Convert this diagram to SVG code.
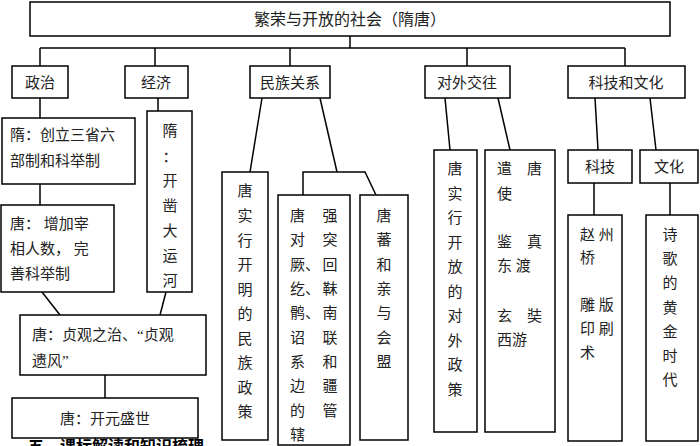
<svg xmlns="http://www.w3.org/2000/svg" width="700" height="446" viewBox="0 0 700 446">
<style>
rect{fill:#fff;stroke:#000;stroke-width:1.5}
line,polyline{stroke:#000;stroke-width:1.5;fill:none}
text{font-family:"Liberation Serif","Noto Sans CJK SC",serif;font-size:15px;fill:#222}
.c{text-anchor:middle}
</style>
<rect x="0" y="0" width="700" height="446" style="stroke:none"/>
<g id="connectors">
<line x1="350" y1="36" x2="350" y2="48"/>
<line x1="40" y1="48" x2="625" y2="48"/>
<line x1="40" y1="48" x2="40" y2="66"/>
<line x1="155" y1="48" x2="155" y2="66"/>
<line x1="290" y1="48" x2="290" y2="66"/>
<line x1="467" y1="48" x2="467" y2="66"/>
<line x1="625" y1="48" x2="625" y2="66"/>
<line x1="40" y1="98" x2="40" y2="118"/>
<line x1="40" y1="184" x2="40" y2="205"/>
<line x1="158" y1="98" x2="158" y2="111"/>
<line x1="42" y1="292" x2="60" y2="315"/>
<line x1="166" y1="292" x2="160" y2="315"/>
<line x1="105" y1="375" x2="105" y2="398"/>
<line x1="262" y1="98" x2="250" y2="172"/>
<line x1="320" y1="98" x2="337" y2="172"/>
<polyline points="303,195 303,172 365,172 376,195"/>
<line x1="445" y1="98" x2="450" y2="150"/>
<line x1="498" y1="98" x2="510" y2="150"/>
<line x1="595" y1="98" x2="598" y2="150"/>
<line x1="650" y1="98" x2="656" y2="150"/>
<line x1="594" y1="183" x2="594" y2="215"/>
<line x1="670" y1="183" x2="670" y2="215"/>
</g>
<g id="title"><rect x="30" y="2" width="640" height="34"/><text class="c" x="350" y="25" style="font-size:16px">繁荣与开放的社会（隋唐）</text></g>
<g id="zz"><rect x="12" y="66" width="56" height="32"/><text class="c" x="40" y="88">政治</text></g>
<g id="jj"><rect x="125" y="66" width="63" height="32"/><text class="c" x="156" y="88">经济</text></g>
<g id="mz"><rect x="250" y="66" width="80" height="32"/><text class="c" x="290" y="88">民族关系</text></g>
<g id="dw"><rect x="425" y="66" width="85" height="32"/><text class="c" x="467" y="88">对外交往</text></g>
<g id="kw"><rect x="568" y="66" width="117" height="32"/><text class="c" x="626" y="88">科技和文化</text></g>
<g id="sui1"><rect x="2" y="118" width="133" height="66"/><text x="10" y="140">隋：创立三省六</text><text x="10" y="166">部制和科举制</text></g>
<g id="tang1"><rect x="1" y="205" width="113" height="87"/><text x="10" y="229">唐： 增加宰</text><text x="10" y="254">相人数， 完</text><text x="10" y="279">善科举制</text></g>
<g id="sui2"><rect x="147" y="111" width="45" height="181"/><text class="c" x="170"><tspan x="170" y="136">隋</tspan><tspan x="170" y="162">：</tspan><tspan x="170" y="186">开</tspan><tspan x="170" y="211">凿</tspan><tspan x="170" y="236">大</tspan><tspan x="170" y="261">运</tspan><tspan x="170" y="286">河</tspan></text></g>
<g id="zg"><rect x="20" y="315" width="186" height="60"/><text x="32" y="340">唐：贞观之治、“贞观</text><text x="32" y="366">遗风”</text></g>
<g id="ky"><rect x="12" y="398" width="186" height="40"/><text class="c" x="105" y="424">唐：开元盛世</text></g>
<g id="mz1"><rect x="222" y="172" width="46" height="268"/><text class="c"><tspan x="245" y="196">唐</tspan><tspan x="245" y="221">实</tspan><tspan x="245" y="246">行</tspan><tspan x="245" y="270">开</tspan><tspan x="245" y="295">明</tspan><tspan x="245" y="319">的</tspan><tspan x="245" y="344">民</tspan><tspan x="245" y="368">族</tspan><tspan x="245" y="393">政</tspan><tspan x="245" y="417">策</tspan></text></g>
<g id="mz2"><rect x="278" y="195" width="72" height="250"/><text><tspan x="290" y="221">唐</tspan><tspan x="290" y="245">对</tspan><tspan x="290" y="270">厥、</tspan><tspan x="290" y="294">纥、</tspan><tspan x="290" y="318">鹘、</tspan><tspan x="290" y="343">诏</tspan><tspan x="290" y="367">系</tspan><tspan x="290" y="391">边</tspan><tspan x="290" y="416">的</tspan><tspan x="290" y="440">辖</tspan></text><text class="c"><tspan x="330" y="221">强</tspan><tspan x="330" y="245">突</tspan><tspan x="330" y="270">回</tspan><tspan x="330" y="294">靺</tspan><tspan x="330" y="318">南</tspan><tspan x="330" y="343">联</tspan><tspan x="330" y="367">和</tspan><tspan x="330" y="391">疆</tspan><tspan x="330" y="416">管</tspan></text></g>
<g id="mz3"><rect x="360" y="195" width="48" height="245"/><text class="c"><tspan x="384" y="221">唐</tspan><tspan x="384" y="245">蕃</tspan><tspan x="384" y="270">和</tspan><tspan x="384" y="294">亲</tspan><tspan x="384" y="318">与</tspan><tspan x="384" y="343">会</tspan><tspan x="384" y="367">盟</tspan></text></g>
<g id="dw1"><rect x="434" y="150" width="43" height="282"/><text class="c"><tspan x="455" y="174">唐</tspan><tspan x="455" y="199">实</tspan><tspan x="455" y="223">行</tspan><tspan x="455" y="248">开</tspan><tspan x="455" y="272">放</tspan><tspan x="455" y="297">的</tspan><tspan x="455" y="321">对</tspan><tspan x="455" y="346">外</tspan><tspan x="455" y="370">政</tspan><tspan x="455" y="395">策</tspan></text></g>
<g id="dw2"><rect x="485" y="150" width="70" height="282"/><text x="497" y="174">遣　唐</text><text x="497" y="199">使</text><text x="497" y="247">鉴　真</text><text x="497" y="271">东 渡</text><text x="497" y="321">玄　奘</text><text x="497" y="345">西游</text></g>
<g id="kj"><rect x="568" y="150" width="64" height="33"/><text class="c" x="600" y="172">科技</text></g>
<g id="wh"><rect x="640" y="150" width="58" height="33"/><text class="c" x="669" y="172">文化</text></g>
<g id="kj1"><rect x="568" y="215" width="54" height="226"/><text x="580" y="240">赵 州</text><text x="580" y="263">桥</text><text x="580" y="310">雕 版</text><text x="580" y="334">印 刷</text><text x="580" y="358">术</text></g>
<g id="wh1"><rect x="646" y="215" width="52" height="226"/><text class="c"><tspan x="670" y="240">诗</tspan><tspan x="670" y="264">歌</tspan><tspan x="670" y="288">的</tspan><tspan x="670" y="313">黄</tspan><tspan x="670" y="337">金</tspan><tspan x="670" y="361">时</tspan><tspan x="670" y="385">代</tspan></text></g>
<text x="28" y="452" style="font-size:16px;font-weight:bold;fill:#000">五、课标解读和知识梳理</text>
</svg>
